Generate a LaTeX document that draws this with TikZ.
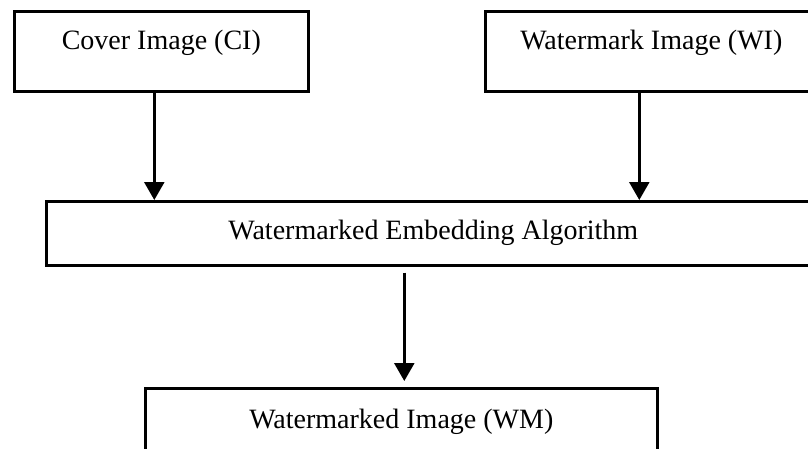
\documentclass[tikz,border=0pt]{standalone}
\usepackage{fontspec}
\setmainfont{Liberation Serif}
\usetikzlibrary{positioning,arrows.meta}

\begin{document}
\begin{tikzpicture}[x=1pt,y=-1pt,
  box/.style={draw=black,line width=2.6pt,inner xsep=0pt,inner ysep=0pt,
              anchor=north west,font=\fontsize{28}{32}\selectfont},
  a/.style={-{Triangle[length=18pt,width=20pt]},black,line width=2.4pt}]
  \useasboundingbox (0,0) rectangle (808,448);
  \clip (0,0) rectangle (808,448);
  \node[box,minimum width=294pt,text height=38pt,text depth=42pt] (ci) at (13,10) {Cover Image (CI)};
  \node[box,minimum width=332pt,text height=38pt,text depth=42pt] (wi) at (484,10) {Watermark Image (WI)};
  \node[box,minimum width=774pt,text height=38pt,text depth=26pt] (emb) at (45,200) {Watermarked Embedding Algorithm};
  \node[box,minimum width=512pt,text height=40pt,text depth=50pt] (wm) at (144,387) {Watermarked Image (WM)};
  \draw[a] ([xshift=-7pt]ci.south) -- ([xshift=-7pt]ci.south |- emb.north);
  \draw[a] ([xshift=-12pt]wi.south) -- ([xshift=-12pt]wi.south |- emb.north);
  \draw[a,shorten <=6pt,shorten >=6pt] ([xshift=-29pt]emb.south) -- ([xshift=-29pt]emb.south |- wm.north);
\end{tikzpicture}
\end{document}
